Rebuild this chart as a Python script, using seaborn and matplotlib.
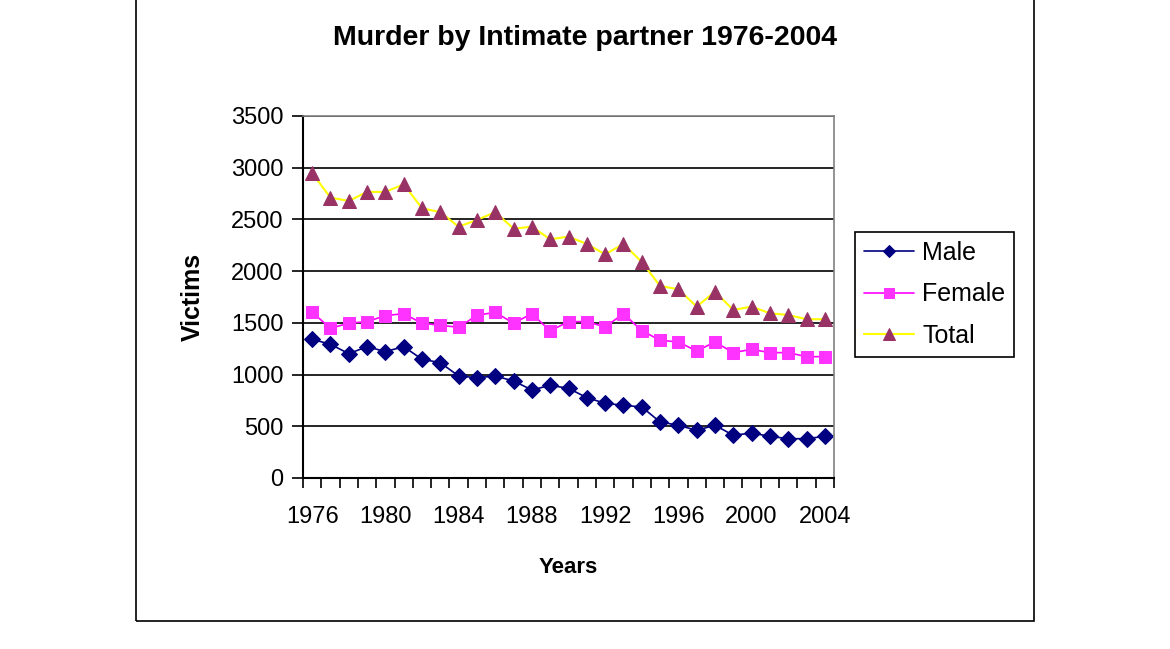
import seaborn as sns
import pandas as pd
import matplotlib.pyplot as plt
from matplotlib.patches import Rectangle

years = list(range(1976, 2005))
male = [1341, 1293, 1202, 1270, 1222, 1270, 1148, 1115, 986, 970,
        986, 938, 851, 896, 867, 777, 722, 703, 687, 542,
        510, 461, 510, 413, 435, 403, 380, 380, 403]
female = [1602, 1448, 1496, 1512, 1570, 1589, 1496, 1477, 1457, 1573,
          1602, 1496, 1589, 1422, 1512, 1512, 1460, 1589, 1425, 1332,
          1315, 1228, 1315, 1212, 1244, 1212, 1212, 1173, 1173]
total = [2947, 2711, 2679, 2766, 2766, 2840, 2608, 2570, 2430, 2495,
         2570, 2411, 2430, 2308, 2334, 2263, 2163, 2263, 2089, 1857,
         1825, 1657, 1802, 1625, 1657, 1593, 1576, 1535, 1535]
y_ticks = [0, 500, 1000, 1500, 2000, 2500, 3000, 3500]
x_labels = [1976, 1980, 1984, 1988, 1992, 1996, 2000, 2004]

df = pd.DataFrame({"Year": years, "Male": male, "Female": female, "Total": total})

sns.set_style("white")
plt.rcParams['font.family'] = ['Liberation Sans', 'DejaVu Sans']
plt.rcParams['text.color'] = 'black'
plt.rcParams['axes.labelcolor'] = 'black'
plt.rcParams['xtick.color'] = 'black'
plt.rcParams['ytick.color'] = 'black'

fig = plt.figure(figsize=(11.7, 6.49), dpi=100)
ax = fig.add_axes([303 / 1170, 1 - 478 / 649, 531 / 1170, 362 / 649])

sns.lineplot(data=df, x="Year", y="Male", ax=ax, color="#000080", lw=1.2,
             marker="D", markersize=8, markerfacecolor="#000080",
             markeredgecolor="#000080", label="Male")
sns.lineplot(data=df, x="Year", y="Female", ax=ax, color="#FF00FF", lw=1.2,
             marker="s", markersize=9, markerfacecolor="#FF33FF",
             markeredgecolor="#FF33FF", label="Female")
sns.lineplot(data=df, x="Year", y="Total", ax=ax, color="#FFFF00", lw=1.5,
             marker="^", markersize=10, markerfacecolor="#993366",
             markeredgecolor="#993366", label="Total")

ax.set_xlim(1975.5, 2004.5)
ax.set_ylim(0, 3500)
ax.set_yticks(y_ticks)
ax.set_xticks(x_labels)
ax.set_xticks([y - 0.5 for y in years] + [2004.5], minor=True)
ax.tick_params(axis="x", which="major", bottom=True, length=0, pad=20, labelsize=17)
ax.tick_params(axis="x", which="minor", bottom=True, length=7, width=1.2, direction="out")
ax.tick_params(axis="y", left=True, length=8, width=1.2, direction="out", labelsize=17, pad=6)
ax.yaxis.grid(True, color="black", lw=1.2)
ax.set_axisbelow(True)
for side in ["left", "bottom"]:
    ax.spines[side].set_color("black")
    ax.spines[side].set_linewidth(1.5)
for side in ["top", "right"]:
    ax.spines[side].set_visible(True)
    ax.spines[side].set_color("#808080")
    ax.spines[side].set_linewidth(1.2)

ax.set_xlabel("Years", fontsize=16, fontweight="bold", labelpad=21)
ax.set_ylabel("Victims", fontsize=18, fontweight="bold", labelpad=19)

fig.text(585 / 1170, 1 - 38 / 649, "Murder by Intimate partner 1976-2004",
         ha="center", va="center", fontsize=20.5, fontweight="bold")

ax.legend(loc="upper left", bbox_to_anchor=(855 / 1170, 1 - 232 / 649),
          bbox_transform=fig.transFigure, borderaxespad=0, fontsize=18,
          frameon=True, fancybox=False, edgecolor="black", framealpha=1,
          handlelength=2.0, handletextpad=0.35, labelspacing=0.7, borderpad=0.35,
          markerscale=0.8)
ax.get_legend().get_frame().set_linewidth(1.2)

fig.patches.append(Rectangle((136 / 1170, 1 - 621 / 649), 898 / 1170, 621 / 649 + 0.02,
                             transform=fig.transFigure, fill=False,
                             edgecolor="black", lw=1.2))

plt.savefig("out.png", dpi=100)
